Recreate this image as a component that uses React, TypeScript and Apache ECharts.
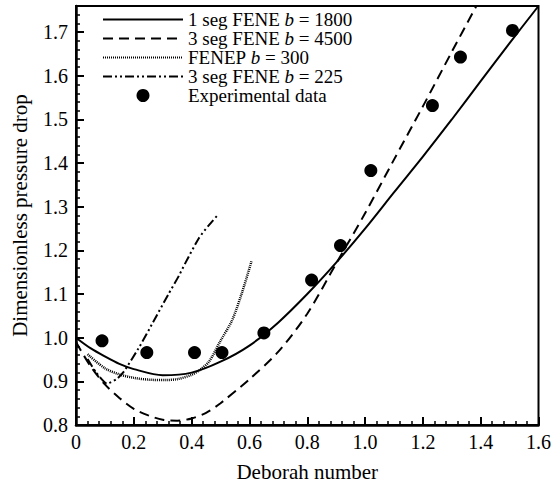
import React, { useEffect, useRef } from "react";
import * as echarts from "echarts";

const FONT = "Times New Roman, Liberation Serif, DejaVu Serif, serif";

const seriesNames = [
  "1 seg FENE b = 1800",
  "3 seg FENE b = 4500",
  "FENEP b = 300",
  "3 seg FENE b = 225",
  "Experimental data",
];

const fene1800X = [0, 0.05, 0.1, 0.15, 0.2, 0.3, 0.4, 0.5, 0.6, 0.7, 0.8, 0.9, 1.0, 1.1, 1.2, 1.3, 1.4, 1.5, 1.6];
const fene1800Y = [1.0, 0.976, 0.957, 0.94, 0.928, 0.914, 0.92, 0.945, 0.982, 1.035, 1.1, 1.172, 1.25, 1.333, 1.415, 1.5, 1.588, 1.675, 1.76];

const fene4500X = [0, 0.05, 0.1, 0.15, 0.2, 0.25, 0.3, 0.35, 0.4, 0.45, 0.5, 0.6, 0.7, 0.8, 0.9, 1.0, 1.1, 1.2, 1.3, 1.385];
const fene4500Y = [0.99, 0.935, 0.893, 0.862, 0.837, 0.822, 0.812, 0.81, 0.815, 0.828, 0.85, 0.905, 0.968, 1.055, 1.17, 1.285, 1.408, 1.53, 1.655, 1.76];

const fenep300X = [0.04, 0.1, 0.15, 0.2, 0.25, 0.3, 0.35, 0.4, 0.43, 0.46, 0.5, 0.54, 0.575, 0.607];
const fenep300Y = [0.962, 0.93, 0.916, 0.908, 0.904, 0.903, 0.905, 0.915, 0.927, 0.945, 0.993, 1.04, 1.105, 1.175];

const fene225X = [0.04, 0.07, 0.107, 0.14, 0.164, 0.221, 0.267, 0.32, 0.356, 0.379, 0.425, 0.46, 0.493];
const fene225Y = [0.951, 0.92, 0.895, 0.905, 0.921, 0.981, 1.036, 1.1, 1.142, 1.172, 1.228, 1.258, 1.283];

const expX = [0.09, 0.245, 0.41, 0.505, 0.65, 0.815, 0.915, 1.02, 1.233, 1.33, 1.51];
const expY = [0.993, 0.966, 0.966, 0.966, 1.011, 1.132, 1.211, 1.383, 1.532, 1.643, 1.704];

const zip = (xs: number[], ys: number[]) => xs.map((x, i) => [x, ys[i]]);

export default function App() {
  const ref = useRef<HTMLDivElement>(null);
  useEffect(() => {
    if (!ref.current) return;
    const chart = echarts.init(ref.current, undefined, { renderer: "svg" });
    const lineBase = {
      type: "line" as const,
      showSymbol: false,
      symbol: "circle",
      smooth: 0.3,
      xAxisIndex: 0,
      yAxisIndex: 0,
      z: 3,
    };
    const legendData = seriesNames.map((n, i) =>
      i < 4 ? { name: n, itemStyle: { opacity: 0 } } : { name: n, icon: "circle" }
    );
    chart.setOption({
      animation: false,
      backgroundColor: "#fff",
      textStyle: { fontFamily: FONT, color: "#000" },
      grid: {
        left: 76,
        right: 11,
        top: 6,
        bottom: 53,
        show: true,
        borderColor: "#000",
        borderWidth: 2,
        backgroundColor: "transparent",
      },
      legend: {
        orient: "vertical",
        left: 102,
        top: 10,
        padding: 0,
        itemWidth: 80,
        itemHeight: 13,
        itemGap: 0,
        data: legendData,
        textStyle: {
          fontFamily: FONT,
          fontSize: 19,
          color: "#000",
          lineHeight: 19,
          rich: {
            i: { fontFamily: FONT, fontSize: 19, fontStyle: "italic", color: "#000", lineHeight: 19 },
          },
        },
        formatter: (name: string) => name.replace(" b = ", " {i|b} = "),
      },
      xAxis: {
        type: "value",
        min: 0,
        max: 1.6,
        interval: 0.2,
        name: "Deborah number",
        nameLocation: "middle",
        nameGap: 36,
        nameTextStyle: { fontFamily: FONT, fontSize: 21, color: "#000" },
        axisLine: { show: true, onZero: false, lineStyle: { color: "#000", width: 2.5 } },
        axisTick: { show: true, inside: true, length: 8, lineStyle: { color: "#000", width: 2 } },
        minorTick: { show: true, splitNumber: 5, length: 4, lineStyle: { color: "#000", width: 1.5 } },
        axisLabel: {
          fontFamily: FONT,
          fontSize: 20,
          color: "#000",
          margin: 7,
          formatter: (v: number) => (v === 0 ? "0" : v.toFixed(1)),
        },
        splitLine: { show: false },
      },
      yAxis: [
        {
          type: "value",
          min: 0.8,
          max: 1.76,
          interval: 0.1,
          position: "left",
          name: "Dimensionless pressure drop",
          nameLocation: "middle",
          nameGap: 46,
          nameTextStyle: { fontFamily: FONT, fontSize: 21, color: "#000" },
          axisLine: { show: true, onZero: false, lineStyle: { color: "#000", width: 2.5 } },
          axisTick: { show: true, inside: true, length: 8, lineStyle: { color: "#000", width: 2 } },
          axisLabel: {
            fontFamily: FONT,
            fontSize: 20,
            color: "#000",
            margin: 8,
            showMaxLabel: false,
            formatter: (v: number) => (v > 1.75 ? "" : v.toFixed(1)),
          },
          splitLine: { show: false },
        },
        {
          type: "value",
          min: 0.8,
          max: 1.76,
          interval: 0.02,
          position: "left",
          offset: 0,
          axisLine: { show: false },
          axisTick: { show: true, inside: true, length: 4, lineStyle: { color: "#000", width: 1.5 } },
          axisLabel: { show: false },
          splitLine: { show: false },
        },
      ],
      series: [
        {
          ...lineBase,
          name: seriesNames[0],
          data: zip(fene1800X, fene1800Y),
          lineStyle: { color: "#000", width: 2, type: "solid" },
          itemStyle: { color: "#000" },
        },
        {
          ...lineBase,
          name: seriesNames[1],
          data: zip(fene4500X, fene4500Y),
          lineStyle: { color: "#000", width: 2, type: [10, 6] },
          itemStyle: { color: "#000" },
        },
        {
          ...lineBase,
          name: seriesNames[2],
          data: zip(fenep300X, fenep300Y),
          lineStyle: { color: "#000", width: 2.5, type: [1, 1] },
          itemStyle: { color: "#000" },
        },
        {
          ...lineBase,
          name: seriesNames[3],
          smooth: 0.2,
          data: zip(fene225X, fene225Y),
          lineStyle: { color: "#000", width: 2, type: [9, 3, 2, 3, 2, 3] },
          itemStyle: { color: "#000" },
        },
        {
          type: "scatter",
          name: seriesNames[4],
          xAxisIndex: 0,
          yAxisIndex: 0,
          data: zip(expX, expY),
          symbol: "circle",
          symbolSize: 13,
          itemStyle: { color: "#000", opacity: 1 },
          z: 4,
        },
      ],
    });
    return () => chart.dispose();
  }, []);
  return <div ref={ref} style={{ width: 554, height: 487, position: "absolute", left: 0, top: 0 }} />;
}
